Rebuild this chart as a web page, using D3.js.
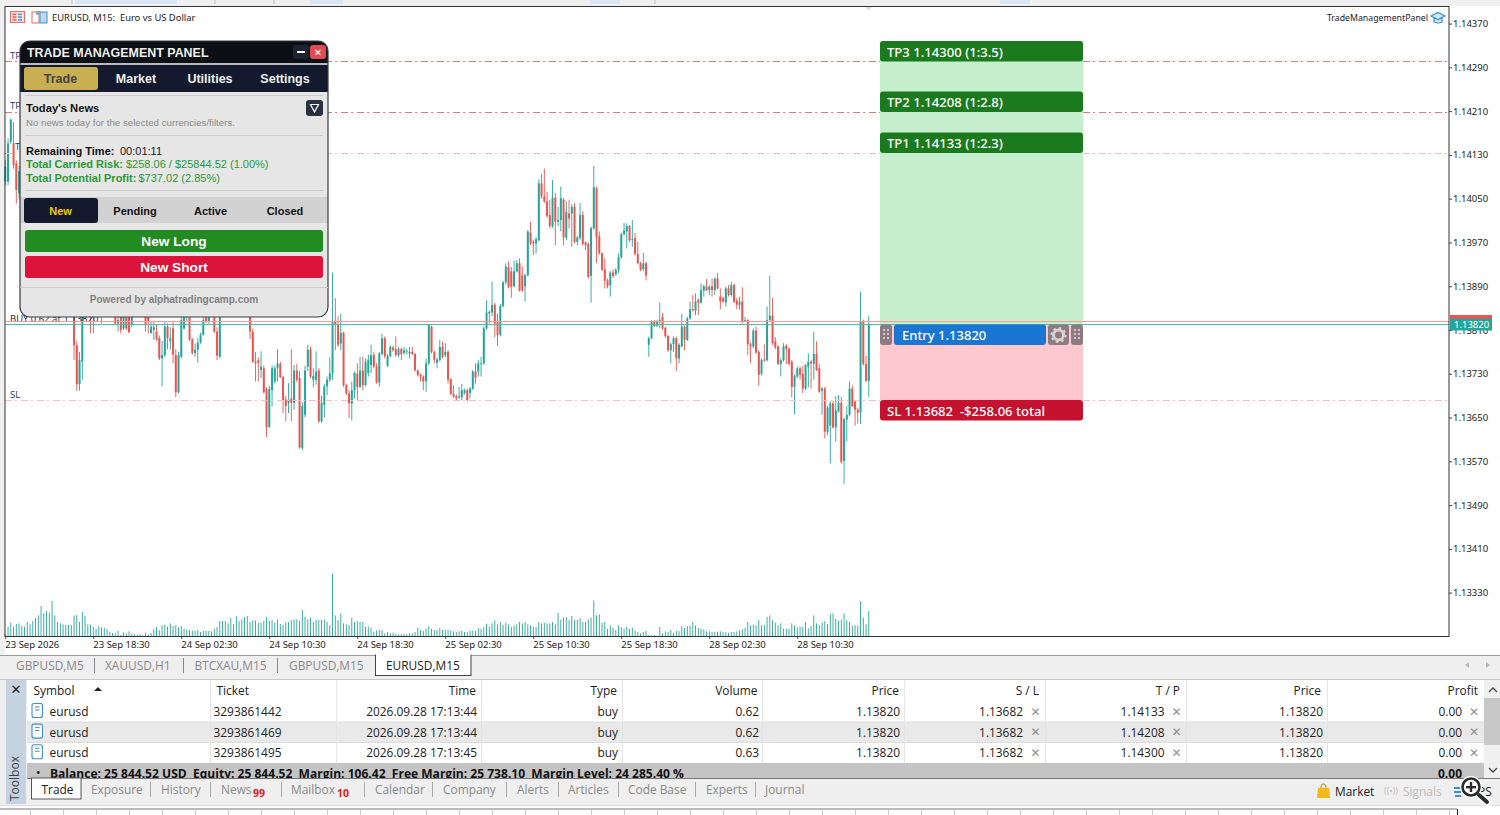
<!DOCTYPE html>
<html>
<head>
<meta charset="utf-8">
<title>EURUSD, M15</title>
<script src="https://cdn.jsdelivr.net/npm/d3@7"></script>
<style>
html, body { margin: 0; padding: 0; background: #fff; overflow: hidden; }
svg { display: block; }
text { white-space: pre; }
</style>
</head>
<body>
<div id="site-canvas"></div>
<script>
// candles, in points above 1.13000 (820 = 1.13820)
var opens = [1081,1081,1154,1151,1114,1060,1100,1085,1065,1080,1048,1030,1042,1010,1022,985,998,968,978,948,958,935,945,910,922,
890,782,711,752,870,850,880,850,875,860,870,862,875,885,878,
870,822,840,813,845,835,819,860,870,880,865,875,835,804,810,807,795,758,764,816,789,813,764,696,761,813,835,860,793,768,774,787,801,840,825,850,860,807,761,
880,895,880,890,905,895,910,900,878,890,
880,807,752,755,737,740,702,633,700,716,740,748,724,683,676,685,677,736,722,594,655,743,774,719,719,736,643,673,707,719,
731,825,819,785,805,709,694,676,700,730,706,736,709,731,746,764,743,714,766,795,744,762,778,775,764,775,768,770,767,770,766,736,728,725,716,749,816,770,750,755,779,764,770,720,693,689,687,687,695,700,695,703,734,734,748,749,813,840,842,856,825,801,854,897,925,917,890,917,932,910,890,910,988,971,968,974,1078,1054,1045,1020,999,1052,1008,1011,1048,979,1023,1023,1035,971,978,1020,970,967,909,996,1069,981,950,921,901,892,915,912,920,943,985,990,1000,974,978,949,932,921,932,
783,795,826,818,825,834,814,799,773,784,795,758,780,816,792,831,848,845,865,860,882,889,883,890,883,904,871,868,860,886,874,892,864,856,862,826,828,784,780,809,770,730,756,755,828,836,789,780,748,755,781,776,752,706,725,740,730,703,743,752,748,766,740,699,703,623,635,676,632,661,677,571,646,655,703,679,664,659,826,748,717]
var highs = [1120,1160,1197,1190,1120,1110,1112,1095,1090,1085,1060,1050,1055,1030,1030,1005,1010,985,990,965,970,955,950,930,930,
900,790,770,880,880,875,890,885,885,880,890,880,895,900,890,
880,860,860,860,860,850,875,885,890,895,880,890,850,825,825,820,800,790,825,822,815,825,775,770,840,860,870,880,795,785,795,805,835,865,865,880,870,815,890,
905,915,900,910,925,915,930,915,900,905,
895,812,770,760,771,745,705,708,745,745,775,752,726,690,713,775,746,748,735,678,745,783,780,740,771,740,690,712,725,760,
915,868,835,840,807,712,700,716,734,749,761,761,758,765,783,770,749,770,803,798,766,782,781,798,779,778,779,776,779,779,768,738,730,727,758,821,818,772,760,792,789,786,773,722,709,692,706,711,703,703,706,737,749,755,761,816,864,846,898,860,840,858,900,932,935,925,937,938,941,926,913,993,1008,975,980,1085,1096,1105,1063,1048,1084,1061,1035,1072,1051,1045,1048,1040,1042,982,1042,1027,972,970,999,1110,1072,990,952,941,904,918,921,923,950,988,1006,1005,1002,1011,987,971,935,951,935,
798,828,828,828,860,841,816,801,787,798,798,786,839,818,834,862,874,877,868,895,893,903,892,904,906,914,886,871,889,892,898,895,868,871,888,834,830,787,812,816,773,758,784,853,909,869,797,782,758,786,784,778,755,729,743,743,744,748,767,755,807,789,748,706,706,671,680,680,689,691,688,650,671,716,708,682,668,880,829,763,836]
var lows = [1075,1075,1150,1105,1041,1050,1075,1060,1055,1040,1020,1015,1000,995,975,970,960,950,940,930,925,915,900,895,880,
755,699,699,719,845,838,804,804,850,850,822,850,860,870,860,
820,807,804,810,810,804,815,845,855,860,850,807,804,804,792,790,755,707,760,775,774,749,687,694,758,810,825,790,765,761,750,785,800,822,822,845,805,755,758,
860,875,865,870,890,880,895,870,860,870,
793,750,716,716,722,694,614,631,670,712,716,722,658,643,658,643,664,715,593,590,650,735,722,705,710,640,640,650,691,715,
719,773,779,773,706,691,649,645,685,682,704,700,707,725,731,740,712,706,764,758,743,760,770,761,760,755,765,766,758,764,734,725,716,700,697,746,767,749,740,752,758,760,712,691,686,682,684,682,692,680,685,700,712,725,725,746,810,822,835,797,781,798,851,893,886,869,888,915,880,880,862,908,965,947,950,972,1050,1042,1015,996,997,965,1000,990,965,974,996,962,968,965,975,965,956,904,860,993,932,948,918,886,886,871,905,909,914,940,982,959,970,962,946,930,918,918,901,
761,793,815,815,813,810,795,770,749,770,735,749,778,773,790,829,844,837,837,858,871,881,874,871,874,884,848,860,853,871,871,859,848,847,822,824,764,749,777,766,708,727,752,752,825,783,775,746,725,752,748,745,687,656,722,719,695,700,705,703,719,735,695,655,612,618,566,630,606,659,566,529,606,652,669,635,639,638,745,715,688]
var closes = [1108,1151,1194,1111,1066,1100,1085,1065,1080,1048,1030,1042,1010,1022,985,998,968,978,948,958,935,945,910,922,890,
782,711,755,870,850,865,850,875,860,870,862,875,885,878,870,
822,828,810,845,813,806,860,870,880,865,875,820,825,816,815,793,758,764,816,795,795,765,696,764,828,835,860,792,768,774,787,801,828,825,850,860,807,763,880,
895,880,890,905,895,910,900,878,890,880,
807,752,749,750,743,696,632,702,740,740,749,724,681,671,682,677,736,719,595,671,736,774,725,726,734,643,677,707,719,731,
825,819,783,805,709,694,676,700,732,706,736,709,752,756,764,743,714,767,795,762,762,779,773,764,775,766,773,771,770,766,736,728,725,716,749,819,770,755,756,779,761,770,719,693,688,685,689,700,700,682,703,734,723,749,749,813,842,843,856,822,801,854,897,926,889,889,917,932,882,882,910,990,968,968,976,1078,1054,1045,1018,1000,1052,1008,1011,1051,979,1026,1014,1035,971,979,1020,967,965,907,996,1071,979,950,920,900,890,915,909,920,943,985,992,1000,974,976,949,932,920,932,910,
795,825,817,825,828,813,799,773,784,795,758,783,816,792,831,848,846,862,860,883,890,883,889,883,904,886,862,862,886,874,892,862,856,862,826,828,784,780,809,769,728,755,754,828,836,786,778,748,755,780,775,748,706,726,740,728,703,746,752,749,766,737,697,703,624,668,676,632,663,677,569,647,655,703,671,664,659,826,748,717,820]
// tick volume
var volumes = [5,28,40,28,36,38,30,28,42,35,
45,55,62,90,68,75,70,105,62,42,38,35,33,33,33,62,63,43,72,60,
35,34,27,22,30,26,25,20,13,9,8,15,3,10,8,14,8,5,4,5,
2,10,5,9,20,27,18,32,34,28,38,30,32,26,30,22,20,18,16,15,
18,12,15,16,15,14,22,27,45,45,45,38,55,35,60,45,50,57,60,42,
47,47,40,40,46,57,46,48,40,50,36,33,42,42,48,50,50,46,78,58,
50,55,43,48,48,48,50,42,33,188,62,48,68,38,35,33,55,42,45,42,
42,28,28,25,13,16,18,18,8,12,9,10,7,5,5,6,5,8,8,12,
25,18,15,22,30,22,18,18,24,18,18,18,
17,14,12,14,15,12,12,15,17,15,24,22,27,37,28,38,47,35,42,33,
40,35,28,32,35,42,38,42,35,32,28,27,42,38,40,38,38,42,35,70,
48,55,57,48,60,48,48,53,42,42,50,55,107,62,65,40,42,22,32,25,
18,32,27,22,28,22,25,16,12,8,12,15,3,2,3,1,27,8,14,12,
18,10,16,15,30,24,30,30,42,32,24,22,20,14,14,12,12,13,14,11,
11,10,12,12,14,17,20,25,42,32,34,32,48,32,33,58,62,48,40,32,
38,22,22,22,38,32,26,28,28,42,23,30,62,38,33,40,45,36,66,68,
52,46,50,68,48,42,30,32,32,105,55,35,75]

var priceTicks = [1.1437,1.1429,1.1421,1.1413,1.1405,1.1397,1.1389,1.1381,1.1373,1.1365,1.1357,1.1349,1.1341,1.1333]
var timeTicks = [0,32,64,96,128,160,192,224,256,288]
var timeLabels = ['23 Sep 2026','23 Sep 18:30','24 Sep 02:30','24 Sep 10:30','24 Sep 18:30','25 Sep 02:30','25 Sep 10:30','25 Sep 18:30','28 Sep 02:30','28 Sep 10:30']

var bid = 1.13820, ask = 1.13826
var entry = 1.13820, sl = 1.13682, tp1 = 1.14133, tp2 = 1.14208, tp3 = 1.14300

var chartTabs = ['GBPUSD,M5','XAUUSD,H1','BTCXAU,M15','GBPUSD,M15','EURUSD,M15']
var tickets = ['3293861442','3293861469','3293861495']
var openTimes = ['2026.09.28 17:13:44','2026.09.28 17:13:44','2026.09.28 17:13:45']
var lots = ['0.62','0.62','0.63']
var stops = ['1.13682','1.13682','1.13682']
var targets = ['1.14133','1.14208','1.14300']
var bottomTabs = ['Exposure','History','News','Mailbox','Calendar','Company','Alerts','Articles','Code Base','Experts','Journal']

var UP = '#26a69a', DOWN = '#ef5350'
var UI = "'Open Sans', 'Noto Sans', sans-serif"
var ARIAL = "'Liberation Sans', Arial, sans-serif"

var svg = d3.select('#site-canvas').append('svg').attr('width', 1500).attr('height', 815)

function rect(g, x, y, w, h, fill, rx) {
  return g.append('rect').attr('x', x).attr('y', y).attr('width', w).attr('height', h).attr('fill', fill).attr('rx', rx || 0)
}
function label(g, s, x, y, size, fill, anchor, weight, family) {
  return g.append('text').text(s).attr('x', x).attr('y', y).attr('font-size', size).attr('fill', fill)
    .attr('text-anchor', anchor || 'start').attr('font-weight', weight || 'normal').attr('font-family', family || UI)
}
function hline(g, x1, x2, y, color, width, dash) {
  return g.append('line').attr('x1', x1).attr('x2', x2).attr('y1', y).attr('y2', y)
    .attr('stroke', color).attr('stroke-width', width || 1).attr('stroke-dasharray', dash || null)
}
function vline(g, x, y1, y2, color, width) {
  return g.append('line').attr('x1', x).attr('x2', x).attr('y1', y1).attr('y2', y2)
    .attr('stroke', color).attr('stroke-width', width || 1)
}
// level lines sit on whole pixels like the terminal draws them
function level(p) { return Math.floor(y(p)) + 0.5 }

// window chrome behind the chart
rect(svg, 0, 0, 1500, 6, '#f0f0f0')
rect(svg, 0, 0, 5, 655, '#f0f0f0')
;[[75,102],[310,33],[590,30],[1000,30]].forEach(function (d) { rect(svg, d[0], 0, d[1], 4, '#d9e6f4') })
;[72,274,215,655].forEach(function (x) { vline(svg, x, 0, 4, '#bbb') })

// scales
var x = d3.scaleLinear().domain([0, 314]).range([5.3, 868.8])
var y = d3.scaleLinear().domain([1.1333, 1.1437]).range([592.6, 23.6])
var vol = d3.scaleLinear().domain([0, 188]).range([636, 573.5])
var price = function (p) { return y(1.13 + p / 100000) }

var chart = svg.append('g')
var bars = d3.range(opens.length)

// volume
chart.append('g').selectAll('rect').data(volumes).join('rect')
  .attr('x', function (d, i) { return x(i) - 0.45 })
  .attr('width', 0.9)
  .attr('y', function (d) { return vol(d) })
  .attr('height', function (d) { return 636 - vol(d) })
  .attr('fill', UP)

// candles
var candles = chart.append('g')
candles.selectAll('.wick').data(bars).join('rect').attr('class', 'wick')
  .attr('x', function (i) { return x(i) - 0.45 })
  .attr('width', 0.9)
  .attr('y', function (i) { return price(highs[i]) })
  .attr('height', function (i) { return price(lows[i]) - price(highs[i]) })
  .attr('fill', function (i) { return closes[i] >= opens[i] ? UP : DOWN })
candles.selectAll('.body').data(bars).join('rect').attr('class', 'body')
  .attr('x', function (i) { return x(i) - 1 })
  .attr('width', 2)
  .attr('y', function (i) { return price(Math.max(opens[i], closes[i])) })
  .attr('height', function (i) { return Math.max(0.8, Math.abs(price(opens[i]) - price(closes[i]))) })
  .attr('fill', function (i) { return closes[i] >= opens[i] ? UP : DOWN })

// trade box
var box = svg.append('g')
rect(box, 880, 41, 203, y(entry) - 41, '#c6efce')
rect(box, 880, y(entry), 203, y(sl) - y(entry), '#ffc7ce')

// levels
var DASH = '7 3 2 4'
hline(chart, 5, 880, level(tp3), '#e87878', 1, DASH)
hline(chart, 1083, 1449, level(tp3), '#e87878', 1, DASH)
hline(chart, 5, 880, level(tp2), '#e87878', 1, DASH)
hline(chart, 1083, 1449, level(tp2), '#e87878', 1, DASH)
hline(chart, 5, 880, level(tp1), '#ffbcbc', 1, DASH)
hline(chart, 1083, 1449, level(tp1), '#ffbcbc', 1, DASH)
hline(chart, 5, 880, level(sl), '#ffbcbc', 1, DASH)
hline(chart, 1083, 1449, level(sl), '#ffbcbc', 1, DASH)
label(svg, 'TP', 10, 59, 9.5, '#1c3a66')
label(svg, 'TP', 10, 109, 9.5, '#1c3a66')
label(svg, 'TP', 15, 150, 9.5, '#1c3a66')
label(svg, 'SL', 10, 398, 9.5, '#1c3a66')
label(svg, 'BUY 0.62 at 1.13820', 10, 322, 9.5, '#222')
hline(svg, 5, 1449, 321.5, '#f79a9a', 1.2)
hline(svg, 5, 1449, 324.5, '#4dbdb0', 1.2)

function boxBar(top, h, color, s) {
  rect(svg, 880, top, 203, h, color, 3)
  label(svg, s, 887, top + 15.5, 13.1, '#fff', 'start', 500, "'Noto Sans', sans-serif")
}
boxBar(41, 20.5, '#1b7a1e', 'TP3 ' + tp3.toFixed(5) + ' (1:3.5)')
boxBar(91.5, 20.5, '#1b7a1e', 'TP2 ' + tp2.toFixed(5) + ' (1:2.8)')
boxBar(132.5, 20.5, '#1b7a1e', 'TP1 ' + tp1.toFixed(5) + ' (1:2.3)')
boxBar(400, 20.5, '#c41230', 'SL ' + sl.toFixed(5) + '  -$258.06 total')
rect(svg, 894, 324.5, 152, 20.5, '#1976d2', 3)
label(svg, 'Entry ' + entry.toFixed(5), 902, 340, 13, '#fff', 'start', 500, "'Noto Sans', sans-serif")
function grip(cx) {
  rect(svg, cx - 6, 324.5, 12, 20.5, '#8c7c82', 3)
  d3.range(3).forEach(function (r) {
    d3.range(2).forEach(function (c) {
      rect(svg, cx - 3 + c * 4, 329 + r * 4, 2, 2, '#cfc5c9')
    })
  })
}
grip(886)
grip(1077)
rect(svg, 1048, 324.5, 21, 20.5, '#8c7c82', 3)
svg.append('circle').attr('cx', 1058.5).attr('cy', 335).attr('r', 5).attr('fill', 'none')
  .attr('stroke', '#d8d0d3').attr('stroke-width', 3)
svg.append('circle').attr('cx', 1058.5).attr('cy', 335).attr('r', 7).attr('fill', 'none')
  .attr('stroke', '#d8d0d3').attr('stroke-width', 2).attr('stroke-dasharray', '2.5 3')

// frame and axes
svg.append('rect').attr('x', 5).attr('y', 6.5).attr('width', 1444).attr('height', 630)
  .attr('fill', 'none').attr('stroke', '#333').attr('stroke-width', 1)

var yAxis = d3.axisRight(y).tickValues(priceTicks).tickSize(3).tickPadding(1).tickFormat(d3.format('.5f'))
var gy = svg.append('g').attr('transform', 'translate(1449,0)').call(yAxis)
gy.select('.domain').remove()
gy.selectAll('line').attr('stroke', '#444')
gy.selectAll('text').attr('font-family', "'Noto Sans', sans-serif").attr('font-size', 9.5).attr('fill', '#222')

var xAxis = d3.axisBottom(x).tickValues(timeTicks).tickSize(3).tickPadding(2)
  .tickFormat(function (d, i) { return timeLabels[i] })
var gx = svg.append('g').attr('transform', 'translate(0,636)').call(xAxis)
gx.select('.domain').remove()
gx.selectAll('line').attr('stroke', '#444')
gx.selectAll('text').attr('font-family', "'Noto Sans', sans-serif").attr('font-size', 9.5).attr('fill', '#222')
  .attr('text-anchor', 'start').attr('dx', -0.5)

// price tags on the axis
rect(svg, 1450, 315, 42, 4, '#ef5350')
rect(svg, 1450, 318.5, 42, 12, '#26a69a')
label(svg, bid.toFixed(5), 1454, 328, 9.5, '#fff', 'start', 'normal', "'Noto Sans', sans-serif")

// chart captions
label(svg, 'EURUSD, M15:  Euro vs US Dollar', 52, 21, 9.4, '#222', 'start', 'normal', "'Noto Sans', sans-serif")
label(svg, 'TradeManagementPanel', 1428, 21, 8.75, '#223', 'end', 'normal', "'Noto Sans', sans-serif")
// one click trading and indicator icons
rect(svg, 10.5, 11.5, 14, 11, '#fbe3e3').attr('stroke', '#e66').attr('stroke-width', 1)
d3.range(2).forEach(function (c) {
  d3.range(3).forEach(function (r) { rect(svg, 12.5 + c * 5.5, 13.5 + r * 2.8, 4, 1.7, c ? '#5b9bd5' : '#e66') })
})
rect(svg, 32, 12, 7, 11, '#fff').attr('stroke', '#e66')
rect(svg, 40, 12, 7, 11, '#bcd9f2').attr('stroke', '#3f8fd0')
rect(svg, 36, 11, 5, 4, '#8aa').attr('rx', 1)
// hat icon
svg.append('path').attr('d', 'M1431 16 L1438 12.5 L1445 16 L1438 19.5 Z M1434 18 L1434 22 Q1438 24 1442 22 L1442 18')
  .attr('fill', '#cfe6f6').attr('stroke', '#3a8fc9').attr('stroke-width', 1.2)
// chart shift marker
svg.append('path').attr('d', 'M865 7 L872 7 L868.5 11 Z').attr('fill', '#e3e3e3')

// management panel
var panel = svg.append('g')
var defs = svg.append('defs')
defs.append('clipPath').attr('id', 'panel-clip').append('rect')
  .attr('x', 20).attr('y', 41).attr('width', 308).attr('height', 276).attr('rx', 10)
var inner = panel.append('g').attr('clip-path', 'url(#panel-clip)')
rect(inner, 20, 41, 308, 276, '#e6e6e6')
rect(inner, 20, 41, 308, 22, '#0c0f14')
rect(inner, 20, 63, 308, 2, '#bbb')
rect(inner, 20, 65, 308, 27, '#141a2e')
rect(inner, 20, 197, 308, 26, '#d2d2d2')
panel.append('rect').attr('x', 20).attr('y', 41).attr('width', 308).attr('height', 276).attr('rx', 10)
  .attr('fill', 'none').attr('stroke', '#3a3a40').attr('stroke-width', 1.2)

label(panel, 'TRADE MANAGEMENT PANEL', 27, 57, 12.45, '#eee', 'start', 'bold', ARIAL)
rect(panel, 293, 45, 16, 14, '#1c2430', 3)
rect(panel, 297, 51, 8, 2, '#fff')
rect(panel, 310, 45, 16, 14, '#e04b55', 3)
label(panel, '✕', 318, 56, 10, '#fff', 'middle', 'bold', "'DejaVu Sans', sans-serif")

rect(panel, 24, 67, 74, 23, '#c8b052', 3)
label(panel, 'Trade', 60.5, 83, 12.5, '#444', 'middle', 'bold', ARIAL)
label(panel, 'Market', 136, 83, 12.5, '#eee', 'middle', 'bold', ARIAL)
label(panel, 'Utilities', 210, 83, 12.5, '#eee', 'middle', 'bold', ARIAL)
label(panel, 'Settings', 285, 83, 12.5, '#eee', 'middle', 'bold', ARIAL)

hline(panel, 25, 323, 95.5, '#ccc')
label(panel, "Today's News", 26, 112, 11.2, '#111', 'start', 'bold', ARIAL)
label(panel, 'No news today for the selected currencies/filters.', 26, 126, 9.7, '#8a8a8a', 'start', 'normal', ARIAL)
rect(panel, 306, 100, 17, 16, '#2b3040', 3)
panel.append('path').attr('d', 'M310.5 104.5 L318.5 104.5 L314.5 112 Z').attr('fill', 'none').attr('stroke', '#fff').attr('stroke-width', 1.2)
hline(panel, 25, 323, 135.5, '#ccc')

label(panel, 'Remaining Time:', 26, 155, 11, '#111', 'start', 'bold', ARIAL)
label(panel, '00:01:11', 120, 155, 11, '#222', 'start', 'normal', ARIAL)
var GREEN = '#2a9a35'
label(panel, 'Total Carried Risk:', 26, 168, 11, GREEN, 'start', 'bold', ARIAL)
label(panel, '$258.06 / $25844.52 (1.00%)', 126, 168, 11, GREEN, 'start', 'normal', ARIAL)
label(panel, 'Total Potential Profit:', 26, 182, 11, GREEN, 'start', 'bold', ARIAL)
label(panel, '$737.02 (2.85%)', 138.5, 182, 11, GREEN, 'start', 'normal', ARIAL)
hline(panel, 25, 323, 190.5, '#ccc')

rect(panel, 24, 198, 74, 25, '#141a2e', 3)
label(panel, 'New', 60.5, 214.5, 11, '#f5c800', 'middle', 'bold', ARIAL)
label(panel, 'Pending', 135, 214.5, 11, '#111', 'middle', 'bold', ARIAL)
label(panel, 'Active', 210.5, 214.5, 11, '#111', 'middle', 'bold', ARIAL)
label(panel, 'Closed', 285, 214.5, 11, '#111', 'middle', 'bold', ARIAL)

rect(panel, 25, 230, 298, 22, '#228b22', 3)
label(panel, 'New Long', 174, 245.5, 13.7, '#fff', 'middle', 'bold', ARIAL)
rect(panel, 25, 256, 298, 22, '#dc143c', 3)
label(panel, 'New Short', 174, 271.5, 13.7, '#fff', 'middle', 'bold', ARIAL)
hline(panel, 20, 328, 287.5, '#ccc')
label(panel, 'Powered by alphatradingcamp.com', 174, 303, 10, '#808080', 'middle', 'bold', ARIAL)

// chart tab bar
var tabs = svg.append('g')
rect(tabs, 0, 655, 1500, 25, '#efefef')
hline(tabs, 0, 1500, 655.5, '#9a9a9a')
var tabX = [16, 105, 194.5, 289, 386]
var tabDiv = [94.5, 183.5, 277.5]
chartTabs.forEach(function (t, i) {
  if (i === 4) {
    rect(tabs, 375.5, 655, 95.5, 20.5, '#fff').attr('stroke', '#444').attr('stroke-width', 1)
    rect(tabs, 376, 654, 94.5, 2, '#fff')
  }
  label(tabs, t, tabX[i], 670, 11.9, i === 4 ? '#222' : '#8a8a8a')
})
tabDiv.forEach(function (v) { vline(tabs, v, 658, 673, '#888') })
tabs.append('path').attr('d', 'M1469 662 L1465 665 L1469 668 Z M1486 662 L1490 665 L1486 668 Z').attr('fill', '#bbb')

// toolbox table
var tbl = svg.append('g')
rect(tbl, 0, 676, 1500, 104, '#efefef')
hline(tbl, 0, 1500, 679.5, '#c8c8c8')
rect(tbl, 6, 680, 20, 129 - 5, '#c5d3e0')
rect(tbl, 27, 680, 1457, 83, '#fff')
rect(tbl, 27, 722, 1457, 20.5, '#e9e9e9')
hline(tbl, 27, 1484, 722, '#ddd')
hline(tbl, 27, 1484, 742.5, '#ddd')
var colEdges = [210.5, 336.5, 481.5, 622.5, 762.5, 904.5, 1045.5, 1186.5, 1327.5]
colEdges.forEach(function (v) {
  vline(tbl, v, 680, 763, '#e4e4e4')
})
label(tbl, '✕', 16, 694, 13, '#222', 'middle', 'bold', "'DejaVu Sans', sans-serif")

var headY = 695
var CELL = 11.9
label(tbl, 'Symbol', 33.5, headY, CELL, '#222')
tbl.append('path').attr('d', 'M94 691 L102 691 L98 687 Z').attr('fill', '#222')
label(tbl, 'Ticket', 216.5, headY, CELL, '#222')
label(tbl, 'Time', 476, headY, CELL, '#222', 'end')
label(tbl, 'Type', 617, headY, CELL, '#222', 'end')
label(tbl, 'Volume', 757.5, headY, CELL, '#222', 'end')
label(tbl, 'Price', 899, headY, CELL, '#222', 'end')
label(tbl, 'S / L', 1039, headY, CELL, '#222', 'end')
label(tbl, 'T / P', 1180, headY, CELL, '#222', 'end')
label(tbl, 'Price', 1321, headY, CELL, '#222', 'end')
label(tbl, 'Profit', 1478, headY, CELL, '#222', 'end')

tickets.forEach(function (t, i) {
  var by = 716 + i * 20.6
  rect(tbl, 32, by - 12.5, 10.5, 14, '#fff', 2).attr('stroke', '#3d8ec9').attr('stroke-width', 1.1)
  rect(tbl, 35, by - 9.5, 4.5, 1, '#3d8ec9')
  rect(tbl, 35, by - 6.5, 4.5, 1, '#3d8ec9')
  label(tbl, 'eurusd', 49.5, by, CELL, '#222')
  label(tbl, t, 213.5, by, CELL, '#222')
  label(tbl, openTimes[i], 477, by, CELL, '#222', 'end')
  label(tbl, 'buy', 618, by, CELL, '#222', 'end')
  label(tbl, lots[i], 759, by, CELL, '#222', 'end')
  label(tbl, entry.toFixed(5), 900, by, CELL, '#222', 'end')
  label(tbl, stops[i], 1023, by, CELL, '#222', 'end')
  label(tbl, targets[i], 1164.5, by, CELL, '#222', 'end')
  label(tbl, entry.toFixed(5), 1323, by, CELL, '#222', 'end')
  label(tbl, '0.00', 1462, by, CELL, '#222', 'end')
  ;[1035.5, 1176.5, 1474].forEach(function (cx) {
    label(tbl, '✕', cx, by - 0.5, 12, '#909090', 'middle', 'normal', "'DejaVu Sans', sans-serif")
  })
})

defs.append('clipPath').attr('id', 'balance-clip').append('rect').attr('x', 27).attr('y', 763).attr('width', 1457).attr('height', 15)
rect(tbl, 27, 763, 1457, 15, '#c4c4c4')
var bal = tbl.append('g').attr('clip-path', 'url(#balance-clip)')
label(bal, '•', 36, 777, 12, '#111')
label(bal, 'Balance: 25 844.52 USD  Equity: 25 844.52  Margin: 106.42  Free Margin: 25 738.10  Margin Level: 24 285.40 %', 50, 778, 12.05, '#111', 'start', 'bold')
label(bal, '0.00', 1462, 778, 12, '#111', 'end', 'bold')

// scroll bar
rect(tbl, 1484, 680, 16, 98, '#f0f0f0')
rect(tbl, 1484, 698, 16, 47, '#c8c8c8')
tbl.append('path').attr('d', 'M1489 692 L1493 688 L1497 692 M1489 768 L1493 772 L1497 768').attr('fill', 'none').attr('stroke', '#444').attr('stroke-width', 1.3)

// bottom tab bar
var btm = svg.append('g')
rect(btm, 0, 778, 1500, 27, '#efefef')
rect(btm, 6, 778, 20, 26, '#c5d3e0')
label(btm, 'Toolbox', 0, 0, 12, '#444').attr('transform', 'translate(19,801) rotate(-90)')
hline(btm, 27, 1500, 778.5, '#777')
rect(btm, 31.5, 778, 49.5, 21, '#fff').attr('stroke', '#555').attr('stroke-width', 1)
label(btm, 'Trade', 41.5, 794, 11.9, '#222')
var btmX = [91, 161, 221, 291, 375, 443, 517, 568, 628, 706, 765]
var btmDiv = [150.5, 210.5, 281.5, 364.5, 432.5, 506.5, 558.5, 618.5, 695.5, 755.5]
bottomTabs.forEach(function (t, i) { label(btm, t, btmX[i], 794, 11.9, '#8a8a8a') })
btmDiv.forEach(function (v) { vline(btm, v, 782, 797, '#aaa') })
label(btm, '99', 253, 797, 10.5, '#e02020', 'start', 'bold')
label(btm, '10', 337, 797, 10.5, '#e02020', 'start', 'bold')

btm.append('path').attr('d', 'M1318 788 L1329 788 L1330 798 L1317 798 Z').attr('fill', '#f3b81c')
btm.append('path').attr('d', 'M1321 788 Q1321 784 1323.5 784 Q1326 784 1326 788').attr('fill', 'none').attr('stroke', '#c9930f').attr('stroke-width', 1.2)
label(btm, 'Market', 1335, 796, 11.9, '#222')
label(btm, '((•))', 1384, 794, 9, '#bbb')
label(btm, 'Signals', 1403, 796, 11.9, '#bbb')
rect(btm, 1454, 787, 6, 2, '#3d8ec9')
rect(btm, 1454, 791, 7, 2, '#3d8ec9')
rect(btm, 1455, 795, 6, 2, '#3d8ec9')
label(btm, 'VPS', 1471, 796, 11.9, '#222')

// status strip with its ticks
hline(svg, 0, 1500, 805.5, '#ddd')
hline(svg, 0, 1457, 809, '#777', 1.2)
d3.range(30, 1457, 33).forEach(function (v) { vline(svg, v + 0.5, 810, 815, '#ccc') })
vline(svg, 1457.5, 809, 815, '#222')

// magnifier on top of everything
var lens = svg.append('g')
lens.append('line').attr('x1', 1479).attr('y1', 795).attr('x2', 1488).attr('y2', 803).attr('stroke', '#fff').attr('stroke-width', 7).attr('stroke-linecap', 'round')
lens.append('circle').attr('cx', 1471).attr('cy', 787).attr('r', 11).attr('fill', '#fff')
lens.append('circle').attr('cx', 1471).attr('cy', 787).attr('r', 8.5).attr('fill', '#fff').attr('stroke', '#2b2b2b').attr('stroke-width', 2.6)
lens.append('line').attr('x1', 1479).attr('y1', 795).attr('x2', 1487).attr('y2', 802).attr('stroke', '#2b2b2b').attr('stroke-width', 4).attr('stroke-linecap', 'round')
rect(lens, 1466, 786, 10, 2.4, '#2b2b2b')
rect(lens, 1469.8, 782, 2.4, 10, '#2b2b2b')
</script>
</body>
</html>
